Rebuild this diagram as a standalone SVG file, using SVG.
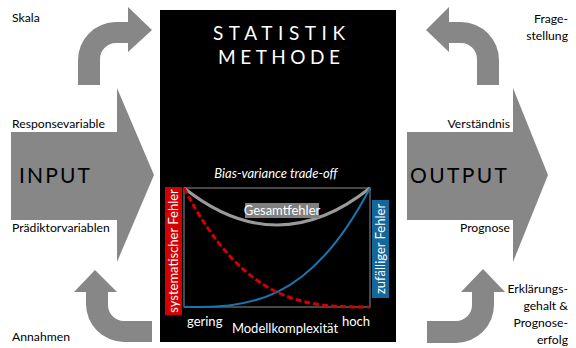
<svg xmlns="http://www.w3.org/2000/svg" width="576" height="348" viewBox="0 0 576 348">
<style>
.arr{fill:#878787}
.lbl{font-family:Lato,"Open Sans",sans-serif;font-size:12.2px;fill:#000}
.big{font-family:Lato,"Open Sans",sans-serif;font-size:21px;fill:#000}
.ttl{font-family:Lato,"Open Sans",sans-serif;font-size:19px;fill:#fff}
.wt{font-family:Lato,"Open Sans",sans-serif;font-size:13px;fill:#fff}
.r{text-anchor:end}
.m{text-anchor:middle}
</style>
<rect width="576" height="348" fill="#fff"/>
<g id="connectors">
<path class="arr" d="M78,85 L78,60 A38,38 0 0 1 116,22 L128,22 L128,7 L152,30 L128,52 L128,43 L116,43 A16,16 0 0 0 100,59 L100,85 Z"/>
<path class="arr" d="M499,85 L499,60 A38,38 0 0 0 461,22 L449,22 L449,7 L426,30 L449,52 L449,43 L461,43 A16,16 0 0 1 477,59 L477,85 Z"/>
<path class="arr" d="M95,270 L117,292 L108,292 L108,305 A16,16 0 0 0 124,321 L152,321 L152,342 L124,342 A38,38 0 0 1 86,304 L86,292 L74,292 Z"/>
<path class="arr" d="M483,269 L505,292 L494,292 L494,305 A38,38 0 0 1 456,343 L427,343 L427,321 L456,321 A16,16 0 0 0 472,305 L472,292 L461,292 Z"/>
</g>
<g id="input">
<path class="arr" d="M11,132 L117,132 L117,88 L154,175 L117,262 L117,220 L11,220 Z"/>
<text class="big" x="19" y="183" textLength="71" lengthAdjust="spacing">INPUT</text>
</g>
<g id="output">
<path class="arr" d="M407,132 L513,132 L513,88 L548,175 L513,262 L513,220 L407,220 Z"/>
<text class="big" x="410" y="183" textLength="97" lengthAdjust="spacing">OUTPUT</text>
</g>
<g id="method">
<rect x="160" y="10" width="236" height="332" fill="#000"/>
<text class="ttl" x="213" y="40" textLength="132" lengthAdjust="spacing">STATISTIK</text>
<text class="ttl" x="218" y="64" textLength="122" lengthAdjust="spacing">METHODE</text>
<text class="wt m" x="276" y="178" font-style="italic" font-size="14">Bias-variance trade-off</text>
<rect x="184" y="188" width="186" height="119" fill="none" stroke="#777" stroke-width="1.2"/>
<path d="M184,188 Q277,262 370,188" fill="none" stroke="#9a9a9a" stroke-width="3"/>
<rect x="245" y="203" width="74" height="15" fill="#808080"/>
<text class="wt m" x="282" y="215" font-size="12.3">Gesamtfehler</text>
<path d="M184,307 C246,307 308,307 370,188" fill="none" stroke="#1a74ad" stroke-width="2"/>
<path d="M184,188 C246,307 308,307 370,307" fill="none" stroke="#d20000" stroke-width="3" stroke-dasharray="6,3"/>
<rect x="165" y="187" width="17" height="128" fill="#d20000"/>
<text class="wt m" font-size="12.3" transform="translate(178,251) rotate(-90)">systematischer Fehler</text>
<rect x="372" y="200" width="17" height="98" fill="#14679b"/>
<text class="wt m" font-size="12.5" transform="translate(385,249) rotate(-90)">zufälliger Fehler</text>
<text class="wt" x="187" y="326">gering</text>
<text class="wt r" x="370" y="326">hoch</text>
<text class="wt m" x="285" y="333">Modellkomplexität</text>
</g>
<g id="labels">
<text class="lbl" x="12" y="22">Skala</text>
<text class="lbl r" x="568" y="23">Frage-</text>
<text class="lbl r" x="568" y="40">stellung</text>
<text class="lbl" x="12" y="128">Responsevariable</text>
<text class="lbl" x="12" y="232">Prädiktorvariablen</text>
<text class="lbl r" x="510" y="128">Verständnis</text>
<text class="lbl r" x="510" y="232">Prognose</text>
<text class="lbl" x="12" y="341">Annahmen</text>
<text class="lbl r" x="568" y="293">Erklärungs-</text>
<text class="lbl r" x="568" y="310">gehalt &amp;</text>
<text class="lbl r" x="568" y="327">Prognose-</text>
<text class="lbl r" x="568" y="344">erfolg</text>
</g>
</svg>
